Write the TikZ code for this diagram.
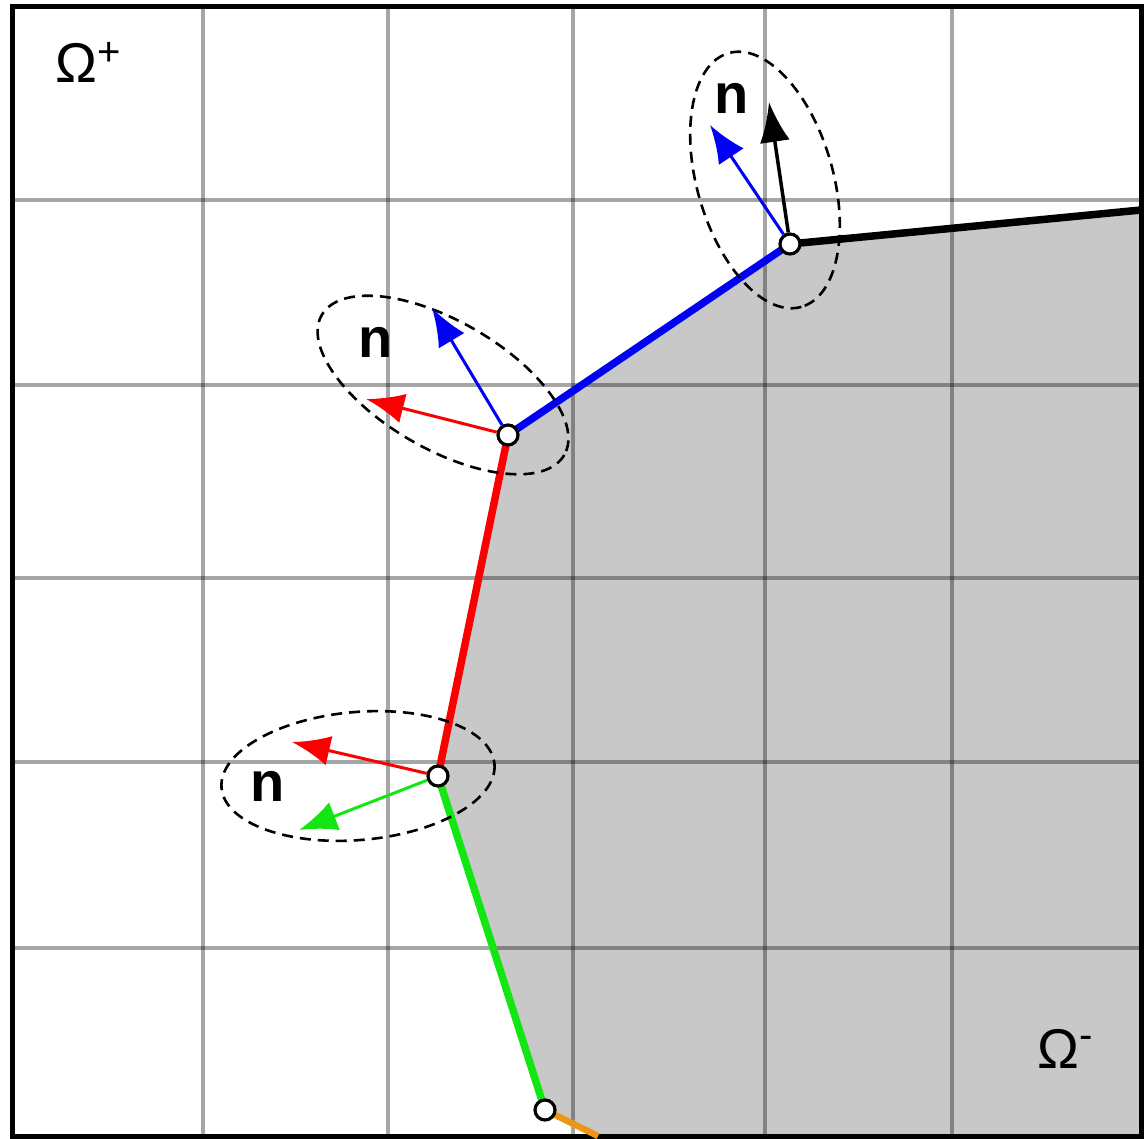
\documentclass[tikz,border=0pt]{standalone}
\usepackage{fontspec}
\setmainfont{Liberation Sans}
\usetikzlibrary{arrows.meta}
\definecolor{regiongray}{RGB}{200,200,200}
\definecolor{bgreen}{RGB}{20,230,20}
\definecolor{borange}{RGB}{236,150,20}
\definecolor{bblue}{RGB}{0,0,245}
\definecolor{bred}{RGB}{250,0,0}
\begin{document}
\begin{tikzpicture}[x=1pt,y=-1pt,
  gridline/.style={line width=4pt,black,opacity=0.35},
  seg/.style={line width=7.5pt},
  vertex/.style={circle,draw=black,fill=white,line width=3.2pt,minimum size=20pt,inner sep=0pt},
  normal/.style={line width=3pt,-{Latex[length=38pt,width=30pt]}},
  bignormal/.style={line width=3.5pt,-{Latex[length=40pt,width=30pt]}},
  zone/.style={draw=black,dash pattern=on 11pt off 7pt,line width=2.6pt},
  nlabel/.style={inner sep=0pt,font=\fontsize{56}{60}\selectfont\bfseries},
  omlabel/.style={inner sep=0pt,anchor=base west,font=\fontsize{56}{60}\selectfont}]
\useasboundingbox (0,0) rectangle (1146,1139);
% boundary points
\coordinate (A) at (1141,210);
\coordinate (B) at (598,1136);
\coordinate (C) at (1141,1136);
\coordinate (q1) at (790,244);
\coordinate (q2) at (508,435);
\coordinate (q3) at (438,776);
\coordinate (q4) at (545,1110);
% region Omega^-
\fill[regiongray] (A) -- (q1) -- (q2) -- (q3) -- (q4) -- (B) -- (C) -- cycle;
% grid
\foreach \x in {203,388,573,765,952} \draw[gridline] (\x,7) -- (\x,1136);
\foreach \y in {200,385,578,762,948} \draw[gridline] (12,\y) -- (1141,\y);
% frame
\draw[line width=5pt] (12,7) rectangle (1141,1136);
% interface segments
\draw[seg,black] (q1) -- (A);
\draw[seg,bblue] (q2) -- (q1);
\draw[seg,bred] (q3) -- (q2);
\draw[seg,bgreen] (q4) -- (q3);
\draw[line width=6.5pt,borange] (q4) -- (B);
% dashed zones
\draw[zone,rotate around={-74:(765,180)}] (765,180) ellipse [x radius=132, y radius=68];
\draw[zone,rotate around={-30:(443,385)}] (443,385) ellipse [x radius=140, y radius=64];
\draw[zone,rotate around={5:(358,776)}] (358,776) ellipse [x radius=137, y radius=64];
% vertices
\node[vertex] (P1) at (q1) {};
\node[vertex] (P2) at (q2) {};
\node[vertex] (P3) at (q3) {};
\node[vertex] (P4) at (q4) {};
% normal tips
\coordinate (t1k) at (769,102);
\coordinate (t1b) at (710,125);
\coordinate (t2b) at (432,308);
\coordinate (t2r) at (366,399);
\coordinate (t3r) at (292,742);
\coordinate (t3g) at (299,830);
% normals
\draw[bignormal,black] (P1) -- (t1k);
\draw[normal,bblue] (P1) -- (t1b);
\draw[normal,bblue] (P2) -- (t2b);
\draw[normal,bred] (P2) -- (t2r);
\draw[normal,bred] (P3) -- (t3r);
\draw[normal,bgreen] (P3) -- (t3g);
% labels
\node[nlabel] (n1) at (732,98) {n};
\node[nlabel] (n2) at (376,342) {n};
\node[nlabel] (n3) at (268,786) {n};
\node[omlabel] (om1) at (55,83) {Ω\raisebox{17pt}{\fontsize{40}{40}\selectfont +}};
\node[omlabel] (om2) at (1037,1068) {Ω\raisebox{20pt}{\fontsize{40}{40}\selectfont -}};
\end{tikzpicture}
\end{document}
